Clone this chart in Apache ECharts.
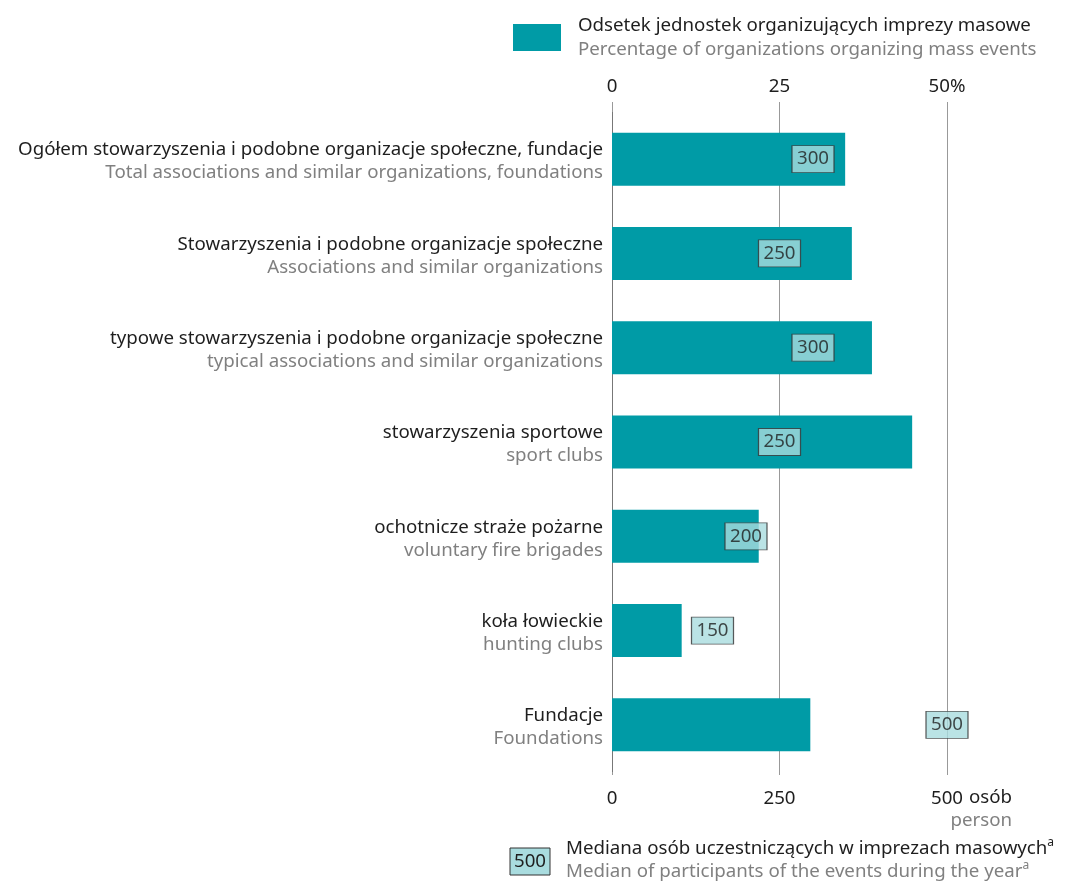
<!DOCTYPE html>
<html>
<head>
<meta charset="utf-8">
<script src="https://cdn.jsdelivr.net/npm/echarts@6/dist/echarts.min.js"></script>
<style>html,body{margin:0;padding:0;background:#fff}#c{width:1066px;height:882px}</style>
</head>
<body>
<div id="c"></div>
<script>
const categoriesPL = [
  'Ogółem stowarzyszenia i podobne organizacje społeczne, fundacje',
  'Stowarzyszenia i podobne organizacje społeczne',
  'typowe stowarzyszenia i podobne organizacje społeczne',
  'stowarzyszenia sportowe',
  'ochotnicze straże pożarne',
  'koła łowieckie',
  'Fundacje'
];
const categoriesEN = [
  'Total associations and similar organizations, foundations',
  'Associations and similar organizations',
  'typical associations and similar organizations',
  'sport clubs',
  'voluntary fire brigades',
  'hunting clubs',
  'Foundations'
];
const percentValues = [34.8, 35.8, 38.8, 44.8, 21.9, 10.4, 29.6];
const medianValues = [300, 250, 300, 250, 200, 150, 500];
const percentTicks = {0: '0', 25: '25', 50: '50%'};
const personTicks = {0: '0', 250: '250', 500: '500'};

const TEAL = '#009ba6';
const BOXFILL = '#a9dcdf';
const DARK = '#1e1e1e';
const GRAY = '#808080';
const FONT = 'Noto Sans';
const FS = 18.7;

const chart = echarts.init(document.getElementById('c'), null, {renderer: 'canvas'});
const catKeys = categoriesPL.map((_, i) => String(i));

chart.setOption({
  animation: false,
  textStyle: {fontFamily: FONT},
  legend: {
    data: ['pct'],
    left: 508, top: 11,
    itemWidth: 48, itemHeight: 27,
    icon: 'rect',
    formatter: () => '{a|Odsetek jednostek organizujących imprezy masowe}\n{b|Percentage of organizations organizing mass events}',
    textStyle: {
      padding: [0, 0, 0, 12],
      rich: {
        a: {fontSize: FS, color: DARK, lineHeight: 24, fontFamily: FONT},
        b: {fontSize: FS, color: GRAY, lineHeight: 24, fontFamily: FONT}
      }
    }
  },
  grid: {left: 612, right: 119, top: 112, bottom: 110, containLabel: false},
  xAxis: [
    {
      type: 'value', position: 'top', min: 0, max: 50, interval: 25,
      axisLine: {show: false},
      axisTick: {show: true, length: 10, inside: false, lineStyle: {color: '#999'}},
      splitLine: {show: true, lineStyle: {color: '#999', width: 1}},
      axisLabel: {margin: 16, fontSize: FS, color: DARK, formatter: v => percentTicks[v] ?? ''}
    },
    {
      type: 'value', position: 'bottom', min: 0, max: 500, interval: 250,
      axisLine: {show: false},
      axisTick: {show: true, length: 3, lineStyle: {color: '#999'}},
      splitLine: {show: false},
      axisLabel: {margin: 17, fontSize: FS, color: DARK, formatter: v => personTicks[v] ?? ''}
    }
  ],
  yAxis: {
    type: 'category', inverse: true, data: catKeys,
    axisLine: {show: true, lineStyle: {color: '#777', width: 1}},
    axisTick: {show: false},
    axisLabel: {
      margin: 9,
      padding: [5, 0, 0, 0],
      formatter: (v) => {
        const i = +v;
        return '{a|' + categoriesPL[i] + '}\n{b|' + categoriesEN[i] + '}';
      },
      rich: {
        a: {fontSize: FS, color: DARK, lineHeight: 23, align: 'right', fontFamily: FONT},
        b: {fontSize: FS, color: GRAY, lineHeight: 23, align: 'right', fontFamily: FONT}
      }
    }
  },
  series: [
    {
      name: 'pct', type: 'bar', xAxisIndex: 0, yAxisIndex: 0,
      data: percentValues, barWidth: 53,
      itemStyle: {color: TEAL}
    },
    {
      name: 'median', type: 'scatter', xAxisIndex: 1, yAxisIndex: 0,
      data: medianValues.map((v, i) => [v, i]),
      symbol: 'rect', symbolSize: [42, 27],
      itemStyle: {color: BOXFILL, borderColor: '#333', borderWidth: 1},
      label: {show: true, position: 'inside', fontSize: FS, color: DARK, fontFamily: FONT,
        formatter: p => String(p.value[0])},
      z: 5
    }
  ],
  graphic: [
    {type: 'text', left: 969, top: 788, style: {text: 'osób', fontSize: FS, fill: DARK, fontFamily: FONT}},
    {type: 'text', right: 54, top: 811, style: {text: 'person', fontSize: FS, fill: GRAY, fontFamily: FONT}},
    {type: 'rect', shape: {x: 510, y: 848, width: 40, height: 27}, style: {fill: BOXFILL, stroke: '#333', lineWidth: 1}},
    {type: 'text', x: 530, y: 861.5, style: {text: '500', fontSize: FS, fill: DARK, fontFamily: FONT, align: 'center', verticalAlign: 'middle'}},
    {type: 'text', x: 566, y: 837, style: {
      text: '{a|Mediana osób uczestniczących w imprezach masowych}{s|a}\n{b|Median of participants of the events during the year}{t|a}',
      fontFamily: FONT,
      rich: {
        a: {fontSize: FS, fill: DARK, lineHeight: 23, fontFamily: FONT},
        b: {fontSize: FS, fill: GRAY, lineHeight: 23, fontFamily: FONT},
        s: {fontSize: 12, fill: DARK, verticalAlign: 'top', lineHeight: 23, padding: [0, 0, 6, 0], fontFamily: FONT},
        t: {fontSize: 12, fill: GRAY, verticalAlign: 'top', lineHeight: 23, padding: [0, 0, 6, 0], fontFamily: FONT}
      }
    }}
  ]
});
</script>
</body>
</html>
